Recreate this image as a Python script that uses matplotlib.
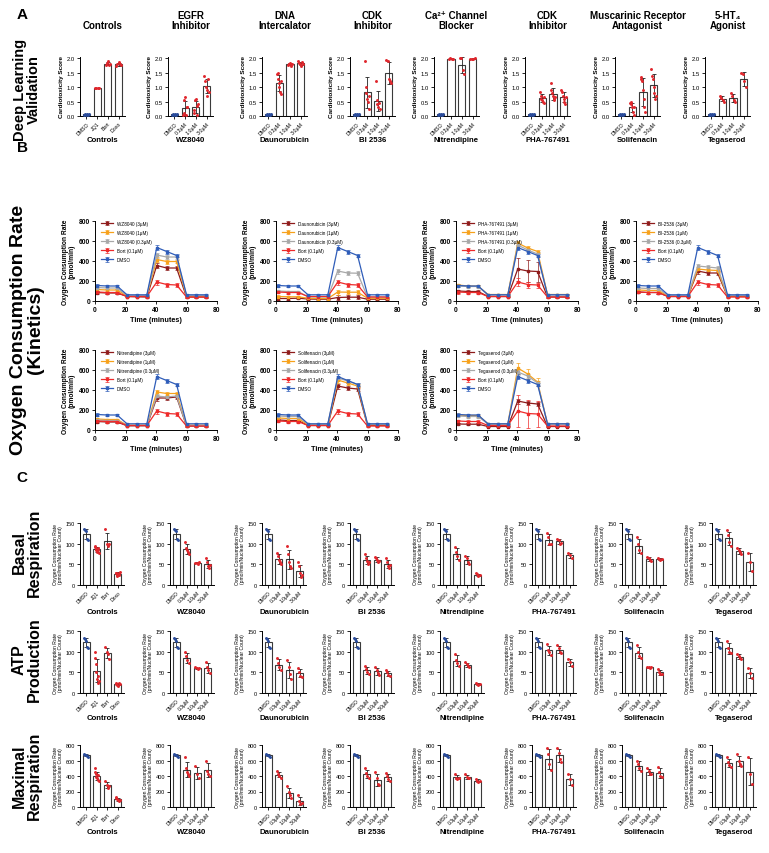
import numpy as np
import matplotlib
matplotlib.use('Agg')
import matplotlib.pyplot as plt

plt.rcParams['font.family'] = ['Liberation Sans', 'DejaVu Sans']
plt.rcParams['axes.linewidth'] = 0.7
plt.rcParams['xtick.major.width'] = 0.6
plt.rcParams['ytick.major.width'] = 0.6
plt.rcParams['xtick.major.size'] = 2
plt.rcParams['ytick.major.size'] = 2
plt.rcParams['xtick.major.pad'] = 1.5
plt.rcParams['ytick.major.pad'] = 1.5

# ---------------- data ----------------
COMPOUNDS = ['Controls', 'WZ8040', 'Daunorubicin', 'BI 2536', 'Nitrendipine',
             'PHA-767491', 'Solifenacin', 'Tegaserod']
CLASS_TITLES = ['Controls', 'EGFR\nInhibitor', 'DNA\nIntercalator', 'CDK\nInhibitor',
                'Ca²⁺ Channel\nBlocker', 'CDK\nInhibitor',
                'Muscarinic Receptor\nAntagonist', '5-HT₄\nAgonist']
CTRL_TICKS = ['DMSO', 'JQ1', 'Bort', 'Doxo']
DOSE_TICKS = ['DMSO', '0.3µM', '1.0µM', '3.0µM']

# Panel A: cardiotoxicity scores (points per bar)
DL_DMSO = [0.03, 0.07, 0.05, 0.08, 0.04, 0.06]
DL_JQ1 = [0.96, 0.98, 0.97, 0.99]
DL_BORT = [1.76, 1.85, 1.90, 1.78, 1.82]
DL_DOXO = [1.75, 1.80, 1.86, 1.82, 1.76]
DL_WZ8040 = [[0.05, 0.10, 0.55, 0.65, 0.02, 0.30, 0.30], [0.10, 0.20, 0.55, 0.60, 0.35, 0.05, 0.40],
             [1.38, 1.20, 1.00, 0.90, 0.70, 1.30, 0.85]]
DL_DAUNO = [[1.45, 1.50, 1.30, 1.15, 1.00, 0.85, 0.75, 1.20], [1.78, 1.82, 1.80, 1.85, 1.75, 1.80],
            [1.90, 1.85, 1.80, 1.75, 1.88, 1.82]]
DL_BI2536 = [[1.90, 1.00, 0.80, 0.60, 0.50, 0.25, 0.70], [1.22, 0.55, 0.40, 0.30, 0.45, 0.25],
             [1.95, 1.90, 1.30, 1.20, 1.15]]
DL_NITREN = [[1.98, 2.00, 1.97, 1.99], [2.00, 2.00, 1.60, 1.45], [1.98, 1.99, 1.97, 2.00]]
DL_PHA = [[0.85, 0.70, 0.60, 0.55, 0.50, 0.45, 0.65], [1.15, 0.90, 0.80, 0.70, 0.60, 0.55, 0.65],
          [0.90, 0.85, 0.70, 0.60, 0.50, 0.40, 0.65]]
DL_SOLIF = [[0.45, 0.48, 0.40, 0.30, 0.15, 0.05, 0.30], [1.35, 1.30, 1.20, 0.90, 0.60, 0.30, 0.15],
            [1.65, 1.40, 1.30, 1.00, 0.80, 0.60, 0.70]]
DL_TEGA = [[0.70, 0.62, 0.55, 0.50], [0.80, 0.70, 0.55, 0.50], [1.50, 1.45, 1.20, 1.00]]

# Panel B: kinetics (OCR, pmol/min)
T_MIN = [1.5, 8, 14.5, 21, 27.5, 34, 40.5, 47, 53.5, 60, 66.5, 73]
OCR_DMSO = [155, 150, 150, 62, 62, 62, 535, 495, 455, 62, 62, 62]
OCR_BORT = [90, 85, 85, 45, 45, 45, 190, 165, 160, 40, 40, 40]
OCR_WZ_3 = [85, 80, 80, 45, 42, 40, 355, 330, 330, 40, 40, 40]
OCR_WZ_1 = [115, 110, 110, 50, 50, 50, 415, 395, 395, 50, 50, 50]
OCR_WZ_03 = [135, 130, 130, 55, 55, 55, 460, 440, 440, 55, 55, 55]
OCR_DAU_3 = [25, 25, 28, 20, 18, 18, 35, 38, 38, 18, 18, 18]
OCR_DAU_1 = [45, 42, 42, 28, 25, 25, 90, 88, 88, 28, 28, 28]
OCR_DAU_03 = [100, 95, 95, 42, 40, 40, 300, 280, 278, 40, 40, 40]
OCR_PHA_3 = [100, 95, 95, 45, 45, 45, 320, 300, 295, 40, 40, 40]
OCR_PHA_1 = [160, 150, 148, 65, 65, 65, 580, 530, 495, 65, 65, 65]
OCR_PHA_03 = [150, 145, 145, 62, 62, 62, 560, 510, 470, 62, 62, 62]
OCR_BI_3 = [90, 85, 85, 45, 45, 45, 300, 280, 280, 45, 45, 45]
OCR_BI_1 = [110, 105, 105, 50, 50, 50, 320, 310, 305, 50, 50, 50]
OCR_BI_03 = [130, 125, 125, 55, 55, 55, 350, 340, 330, 55, 55, 55]
OCR_NIT_3 = [85, 80, 80, 42, 42, 42, 320, 320, 330, 40, 40, 40]
OCR_NIT_1 = [110, 105, 105, 48, 48, 48, 380, 365, 365, 48, 48, 48]
OCR_NIT_03 = [100, 95, 95, 45, 45, 45, 340, 330, 340, 45, 45, 45]
OCR_SOL_3 = [100, 95, 95, 45, 45, 45, 440, 420, 410, 45, 45, 45]
OCR_SOL_1 = [120, 115, 115, 52, 52, 52, 500, 470, 440, 52, 52, 52]
OCR_SOL_03 = [140, 135, 135, 58, 58, 58, 520, 490, 455, 58, 58, 58]
OCR_TEG_3 = [60, 58, 58, 35, 35, 35, 290, 270, 260, 35, 35, 35]
OCR_TEG_1 = [150, 145, 145, 62, 62, 62, 620, 560, 480, 62, 62, 62]
OCR_TEG_03 = [140, 135, 135, 60, 60, 60, 580, 540, 470, 60, 60, 60]
ERR_SMALL = [12, 10, 10, 5, 5, 5, 25, 20, 18, 5, 5, 5]
ERR_PHA_3 = [15, 15, 15, 5, 5, 5, 115, 110, 100, 5, 5, 5]
ERR_BORT_PHA = [15, 15, 15, 5, 5, 5, 40, 30, 25, 5, 5, 5]
ERR_TEG_1 = [12, 10, 10, 5, 5, 5, 55, 50, 40, 5, 5, 5]
ERR_BORT_TEG = [15, 15, 15, 5, 5, 5, 160, 140, 130, 5, 5, 5]

# Panel C: OCR per nuclear count (points per bar)
BAS_DMSO = [135, 133, 130, 112, 108]
BAS_JQ1 = [95, 92, 88, 85, 80, 84, 90, 78]
BAS_BORT = [135, 100, 95, 98]
BAS_DOXO = [30, 28, 25, 22, 26, 29, 24, 32]
BAS_WZ8040 = [[105, 90, 85, 80, 75], [54, 53, 52, 55], [65, 55, 45, 40, 48]]
BAS_DAUNO = [[78, 70, 60, 55, 50], [95, 75, 55, 45, 40], [55, 45, 30, 20, 25]]
BAS_BI2536 = [[75, 65, 58, 52, 55], [68, 66, 60, 55, 58], [65, 55, 45, 40, 48]]
BAS_NITREN = [[92, 80, 70, 60], [70, 65, 55, 50], [28, 26, 22, 24]]
BAS_PHA = [[125, 115, 100, 100], [112, 108, 100, 102], [78, 72, 65]]
BAS_SOLIF = [[115, 100, 85, 78], [68, 65, 60, 58], [65, 63, 60, 62]]
BAS_TEGA = [[132, 120, 105, 95], [90, 85, 80, 75], [78, 55, 35]]

ATP_DMSO = [132, 130, 127, 112, 110]
ATP_JQ1 = [100, 85, 70, 50, 35, 25, 40, 30]
ATP_BORT = [112, 100, 95, 82]
ATP_DOXO = [25, 22, 20, 18, 24, 21]
ATP_WZ8040 = [[100, 90, 80, 72], [62, 60, 58, 60], [75, 62, 55, 48]]
ATP_DAUNO = [[85, 72, 62, 55], [80, 62, 45, 35], [60, 50, 42, 38]]
ATP_BI2536 = [[65, 58, 50, 47], [62, 55, 48, 44], [56, 50, 43, 40]]
ATP_NITREN = [[95, 80, 72, 65], [75, 70, 65, 62], [24, 22, 20, 22]]
ATP_PHA = [[118, 105, 98, 92], [115, 108, 100, 97], [82, 75, 65]]
ATP_SOLIF = [[115, 100, 90, 85], [64, 62, 61, 62], [58, 52, 45, 45]]
ATP_TEGA = [[125, 110, 100, 97], [95, 90, 85, 82], [60, 48, 36]]

MAX_DMSO = [682, 675, 665, 658, 650]
MAX_JQ1 = [500, 450, 420, 390, 370, 350, 410, 330]
MAX_BORT = [330, 290, 250, 270]
MAX_DOXO = [130, 110, 100, 90, 80, 95]
MAX_WZ8040 = [[640, 500, 450, 420, 400], [530, 420, 380], [600, 470, 420, 400]]
MAX_DAUNO = [[460, 420, 400, 380], [270, 200, 150, 120], [150, 80, 40, 50]]
MAX_BI2536 = [[500, 440, 400, 380], [450, 380, 300, 280], [440, 400, 360, 330]]
MAX_NITREN = [[420, 380, 360, 370], [430, 390, 370, 380], [360, 340, 320, 340]]
MAX_PHA = [[760, 680, 560, 480], [760, 700, 620, 580], [430, 360, 280]]
MAX_SOLIF = [[600, 560, 500, 470], [500, 460, 420, 430], [520, 450, 400, 390]]
MAX_TEGA = [[640, 580, 540, 520], [680, 600, 560, 530], [640, 430, 300]]

# ---------------- styling ----------------
W, H = 769, 854
DARKRED, ORANGE, GRAY, RED, BLUE = '#8E1B1B', '#F7A11A', '#A8A8A8', '#EE2A2A', '#2F5DB9'
PT_RED, PT_BLUE = '#E0262C', '#2A4C9C'

fig = plt.figure(figsize=(W / 100, H / 100), dpi=100)


def ax_px(left, top, width, height):
    return fig.add_axes([left / W, 1 - (top + height) / H, width / W, height / H])


def ftext(x, y, s, **kw):
    fig.text(x / W, 1 - y / H, s, **kw)


def style_axes(ax):
    ax.spines['top'].set_visible(False)
    ax.spines['right'].set_visible(False)


def bar_panel(ax, groups, ticks, ymax, yticks, ylabels, ylabel, ylab_fs, ylab_bold, tick_fs, xt_fs):
    for i, pts in enumerate(groups):
        pts = np.asarray(pts, float)
        m = pts.mean()
        sd = pts.std(ddof=1)
        ax.bar(i, m, width=0.68, color='white', edgecolor='#3a3a3a', lw=0.8, zorder=1)
        ax.errorbar(i, m, yerr=sd, color='#222222', lw=0.6, capsize=1.6, capthick=0.6, zorder=3)
        offs = np.linspace(-0.2, 0.2, len(pts))
        ax.scatter(i + offs, pts, s=4.5, color=PT_BLUE if i == 0 else PT_RED, lw=0, zorder=4, clip_on=False)
    ax.set_xlim(-0.6, 3.6)
    ax.set_ylim(0, ymax)
    ax.set_yticks(yticks)
    ax.set_yticklabels(ylabels, fontsize=tick_fs)
    ax.set_xticks(range(4))
    ax.set_xticklabels(ticks, rotation=45, ha='right', rotation_mode='anchor', fontsize=xt_fs)
    ax.set_ylabel(ylabel, fontsize=ylab_fs, weight='bold' if ylab_bold else 'normal', labelpad=2, linespacing=1.0)
    style_axes(ax)


# ---------------- letters & row labels ----------------
for letter, y in [('A', 15), ('B', 148), ('C', 478)]:
    ftext(22, y, letter, fontsize=11, weight='bold', ha='center', va='center')

row_labels = [('Deep Learning\nValidation', 90, 10.5), ('Oxygen Consumption Rate\n(Kinetics)', 330, 14),
              ('Basal\nRespiration', 553, 11.5), ('ATP\nProduction', 660, 11.5),
              ('Maximal\nRespiration', 776, 11.5)]
for s, y, fs in row_labels:
    ftext(27, y, s, fontsize=fs, weight='bold', rotation=90, ha='center', va='center',
          multialignment='center', linespacing=1.05)

# ---------------- Panel A ----------------
A_LEFT = [80, 168, 262, 350, 434, 525, 615, 705]
A_W = 45
DL_GROUPS = [[DL_DMSO, DL_JQ1, DL_BORT, DL_DOXO]] + \
            [[DL_DMSO] + g for g in [DL_WZ8040, DL_DAUNO, DL_BI2536, DL_NITREN, DL_PHA, DL_SOLIF, DL_TEGA]]
for k in range(8):
    ax = ax_px(A_LEFT[k], 58, A_W, 59)
    bar_panel(ax, DL_GROUPS[k], CTRL_TICKS if k == 0 else DOSE_TICKS, 2.05,
              [0, 0.5, 1.0, 1.5, 2.0], ['0.0', '0.5', '1.0', '1.5', '2.0'],
              'Cardiotoxicity Score', 4.6, True, 4.2, 3.8)
    cx = A_LEFT[k] + A_W / 2
    ftext(cx, 31, CLASS_TITLES[k], fontsize=7, weight='bold', ha='center', va='bottom',
          multialignment='center', linespacing=1.05)
    ftext(cx, 141, COMPOUNDS[k], fontsize=5.6, weight='bold', ha='center', va='center')

# ---------------- Panel B ----------------
B_LEFT = [95, 276, 456, 636]
B_TOP = [222, 351]
B_W, B_H = 122, 80
KIN = [
    ('WZ8040', [OCR_WZ_3, OCR_WZ_1, OCR_WZ_03], [ERR_SMALL] * 3, ERR_SMALL),
    ('Daunorubicin', [OCR_DAU_3, OCR_DAU_1, OCR_DAU_03], [ERR_SMALL] * 3, ERR_SMALL),
    ('PHA-767491', [OCR_PHA_3, OCR_PHA_1, OCR_PHA_03], [ERR_PHA_3, ERR_SMALL, ERR_SMALL], ERR_BORT_PHA),
    ('BI-2536', [OCR_BI_3, OCR_BI_1, OCR_BI_03], [ERR_SMALL] * 3, ERR_SMALL),
    ('Nitrendipine', [OCR_NIT_3, OCR_NIT_1, OCR_NIT_03], [ERR_SMALL] * 3, ERR_SMALL),
    ('Solifenacin', [OCR_SOL_3, OCR_SOL_1, OCR_SOL_03], [ERR_SMALL] * 3, ERR_SMALL),
    ('Tegaserod', [OCR_TEG_3, OCR_TEG_1, OCR_TEG_03], [ERR_SMALL, ERR_TEG_1, ERR_SMALL], ERR_BORT_TEG),
]
for idx, (name, series, errs, bort_err) in enumerate(KIN):
    r, c = divmod(idx, 4)
    ax = ax_px(B_LEFT[c], B_TOP[r], B_W, B_H)
    labels = [f'{name} (3µM)', f'{name} (1µM)', f'{name} (0.3µM)', 'Bort (0.1µM)', 'DMSO']
    cols = [DARKRED, ORANGE, GRAY, RED, BLUE]
    vals = series + [OCR_BORT, OCR_DMSO]
    ers = errs + [bort_err, ERR_SMALL]
    for lab, col, v, e in zip(labels, cols, vals, ers):
        ax.errorbar(T_MIN, v, yerr=e, color=col, lw=0.9, marker='s', ms=1.8, capsize=1.2,
                    elinewidth=0.5, capthick=0.5, label=lab)
    ax.set_xlim(0, 80)
    ax.set_ylim(0, 800)
    ax.set_xticks([0, 20, 40, 60, 80])
    ax.set_yticks([0, 200, 400, 600, 800])
    ax.tick_params(labelsize=4.8)
    for t in ax.get_xticklabels() + ax.get_yticklabels():
        t.set_fontweight('bold')
    ax.set_xlabel('Time (minutes)', fontsize=5.2, weight='bold', labelpad=2)
    ax.set_ylabel('Oxygen Consumption Rate\n(pmol/min)', fontsize=4.8, weight='bold', labelpad=2,
                  linespacing=1.05)
    style_axes(ax)
    ax.legend(loc='upper left', bbox_to_anchor=(0.03, 1.04), fontsize=3.3, frameon=False,
              handlelength=2.6, labelspacing=0.9, borderaxespad=0.2)

# ---------------- Panel C ----------------
C_LEFT = [80, 170, 262, 350, 440, 532, 622, 712]
C_W = 44
C_TOP = [524, 632, 746]
C_LABEL_Y = [612, 719, 833]
ROWS = [
    (BAS_DMSO, [BAS_JQ1, BAS_BORT, BAS_DOXO],
     [BAS_WZ8040, BAS_DAUNO, BAS_BI2536, BAS_NITREN, BAS_PHA, BAS_SOLIF, BAS_TEGA], 150, [0, 50, 100, 150]),
    (ATP_DMSO, [ATP_JQ1, ATP_BORT, ATP_DOXO],
     [ATP_WZ8040, ATP_DAUNO, ATP_BI2536, ATP_NITREN, ATP_PHA, ATP_SOLIF, ATP_TEGA], 150, [0, 50, 100, 150]),
    (MAX_DMSO, [MAX_JQ1, MAX_BORT, MAX_DOXO],
     [MAX_WZ8040, MAX_DAUNO, MAX_BI2536, MAX_NITREN, MAX_PHA, MAX_SOLIF, MAX_TEGA], 800,
     [0, 200, 400, 600, 800]),
]
for r, (dmso, ctrls, drugs, ymax, yt) in enumerate(ROWS):
    groups = [[dmso] + ctrls] + [[dmso] + g for g in drugs]
    for k in range(8):
        ax = ax_px(C_LEFT[k], C_TOP[r], C_W, 62)
        bar_panel(ax, groups[k], CTRL_TICKS if k == 0 else DOSE_TICKS, ymax, yt, [str(v) for v in yt],
                  'Oxygen Consumption Rate\n(pmol/min/Nuclear Count)', 3.6, False, 4.0, 3.6)
        ftext(C_LEFT[k] + C_W / 2, C_LABEL_Y[r], COMPOUNDS[k], fontsize=5.6, weight='bold',
              ha='center', va='center')

fig.savefig('out.png', dpi=100)
